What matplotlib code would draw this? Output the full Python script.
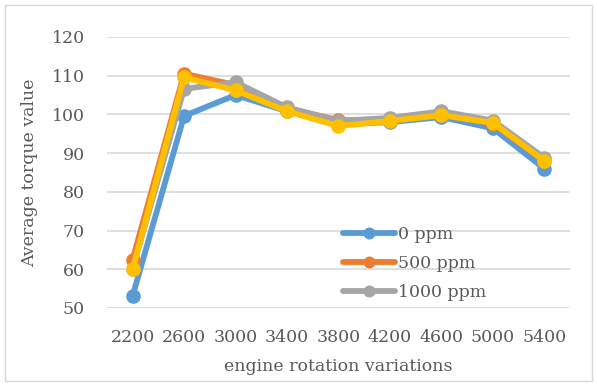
import matplotlib
matplotlib.use("Agg")
import matplotlib.pyplot as plt
from matplotlib.patches import Rectangle

categories = ["2200", "2600", "3000", "3400", "3800", "4200", "4600", "5000", "5400"]
ppm0 = [53.1, 99.6, 105.0, 100.8, 97.4, 98.0, 99.3, 96.4, 86.0]
ppm500 = [62.5, 110.5, 107.6, 101.6, 98.5, 98.6, 100.0, 97.6, 88.0]
ppm1000 = [60.2, 106.6, 108.3, 101.8, 98.3, 99.1, 100.8, 98.4, 88.8]
ppm_yellow = [60.0, 109.6, 106.2, 100.8, 97.0, 98.3, 99.8, 97.8, 88.0]
series_names = ["0 ppm", "500 ppm", "1000 ppm", None]
yticks = [50, 60, 70, 80, 90, 100, 110, 120]

colors = ["#5B9BD5", "#ED7D31", "#A5A5A5", "#FFC000"]
text_color = "#595959"
font = "DejaVu Serif"
fs = 12.5

fig = plt.figure(figsize=(5.97, 3.85), dpi=100)
fig.patches.append(Rectangle((0.009, 0.01), 0.982, 0.977, transform=fig.transFigure,
                             fill=False, edgecolor="#D9D9D9", linewidth=1.0))
ax = fig.add_axes([0.179, 0.2, 0.776, 0.704])

x = list(range(len(categories)))
handles = []
for vals, col, name in zip([ppm0, ppm500, ppm1000, ppm_yellow], colors, series_names):
    h, = ax.plot(x, vals, color=col, linewidth=4.2, marker="o", markersize=9.5,
                 solid_capstyle="round", solid_joinstyle="round", zorder=3)
    if name:
        h.set_label(name)
        handles.append(h)

ax.set_xlim(-0.5, len(categories) - 0.5)
ax.set_ylim(50, 120)
ax.set_yticks(yticks)
ax.set_xticks(x)
ax.set_xticklabels(categories)
ax.grid(axis="y", color="#D9D9D9", linewidth=1.2, zorder=0)
ax.set_axisbelow(True)
for s in ax.spines.values():
    s.set_visible(False)
ax.tick_params(length=0, labelsize=fs, labelcolor=text_color)
ax.tick_params(axis="y", pad=16)
ax.tick_params(axis="x", pad=15)
for lab in ax.get_xticklabels() + ax.get_yticklabels():
    lab.set_fontfamily(font)

ax.set_xlabel("engine rotation variations", fontsize=fs, color=text_color,
              fontfamily=font, labelpad=9)
ax.set_ylabel("Average torque value", fontsize=fs, color=text_color,
              fontfamily=font, labelpad=10)

leg = ax.legend(handles=handles, loc="upper left", bbox_to_anchor=(0.49, 0.335),
                frameon=False, prop={"family": font, "size": fs},
                labelcolor=text_color, handlelength=3.0, handletextpad=0.2,
                labelspacing=0.7, borderpad=0, markerscale=0.8)

fig.savefig("out.png", dpi=100)
